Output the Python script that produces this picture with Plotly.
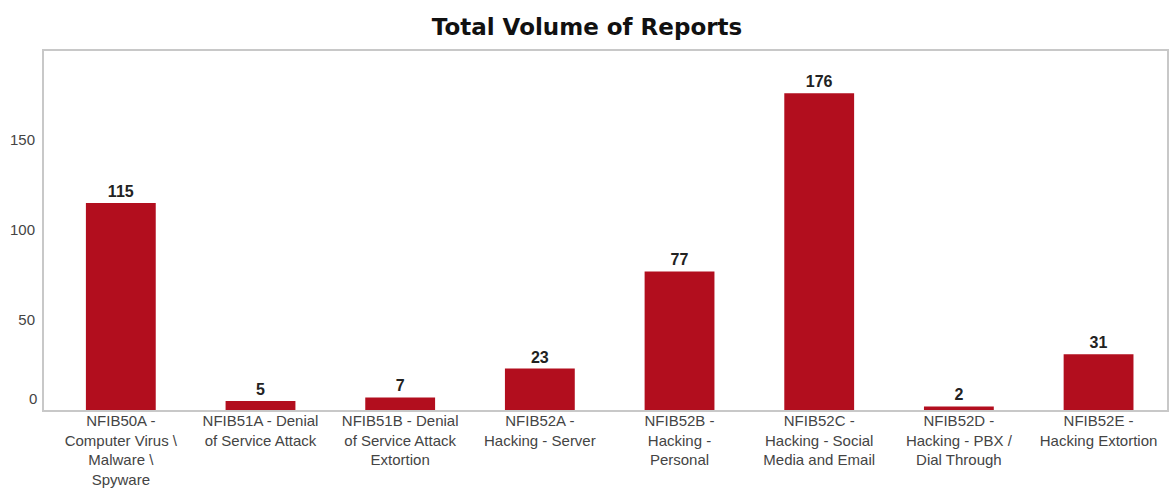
import plotly.graph_objects as go

categories = [
    "NFIB50A -<br>Computer Virus \\<br>Malware \\<br>Spyware",
    "NFIB51A - Denial<br>of Service Attack",
    "NFIB51B - Denial<br>of Service Attack<br>Extortion",
    "NFIB52A -<br>Hacking - Server",
    "NFIB52B -<br>Hacking -<br>Personal",
    "NFIB52C -<br>Hacking - Social<br>Media and Email",
    "NFIB52D -<br>Hacking - PBX /<br>Dial Through",
    "NFIB52E -<br>Hacking Extortion",
]
values = [115, 5, 7, 23, 77, 176, 2, 31]
y_ticks = [50, 100, 150]

xpos = list(range(len(categories)))
tick_font = dict(family="Liberation Sans, Arial", size=15, color="#444")

fig = go.Figure()
fig.add_trace(go.Bar(
    x=xpos, y=values, width=0.5,
    marker=dict(color="#B20E1E", line=dict(width=0)),
    text=[str(v) for v in values], textposition="outside",
    textfont=dict(family="Liberation Sans, Arial", size=16, color="#222"),
    texttemplate="<b>%{text}</b>", cliponaxis=False,
))

fig.add_annotation(
    text="0", xref="paper", x=0, xanchor="right", xshift=-5,
    yref="y", y=0, yanchor="middle", yshift=12, showarrow=False,
    font=tick_font,
)

fig.update_layout(
    width=1174, height=491,
    margin=dict(l=44, r=7, t=51, b=81),
    paper_bgcolor="white", plot_bgcolor="white",
    title=dict(text="<b>Total Volume of Reports</b>", x=0.5, xanchor="center",
               y=1 - 27 / 491, yanchor="middle",
               font=dict(family="DejaVu Sans", size=23, color="#111")),
    showlegend=False,
    bargap=0.5,
)
fig.update_xaxes(
    range=[-0.55, 7.49], tickmode="array", tickvals=xpos, ticktext=categories,
    tickfont=tick_font, automargin=False,
    showgrid=False, zeroline=False, showline=True, linecolor="#c8c8c8", linewidth=2,
    mirror=True, ticks="", fixedrange=True, ticklabelstandoff=-4,
)
fig.update_yaxes(
    range=[0, 199.5], tickmode="array", tickvals=y_ticks, ticktext=[str(t) for t in y_ticks],
    tickfont=tick_font, automargin=False,
    showgrid=False, zeroline=False, showline=True, linecolor="#c8c8c8", linewidth=2,
    mirror=True, ticks="", ticklabelstandoff=4,
)

fig.write_html("out.html")
